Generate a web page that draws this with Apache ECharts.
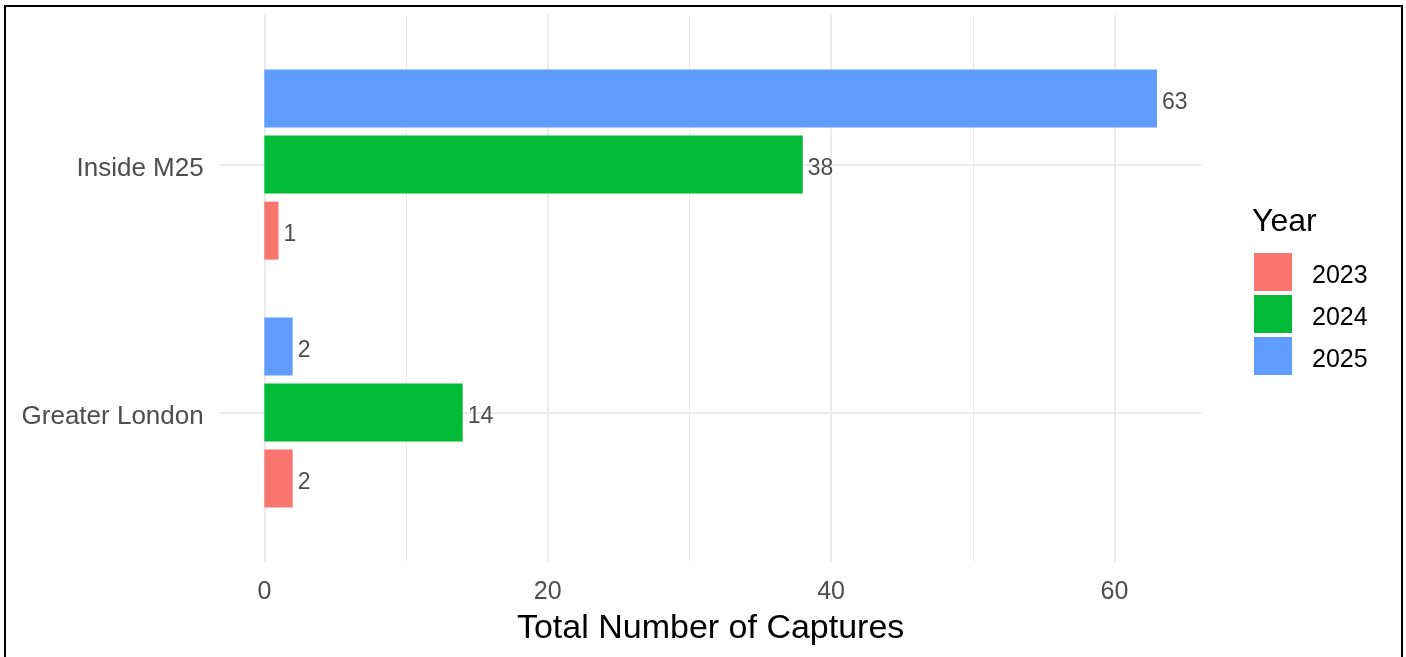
<!DOCTYPE html>
<html>
<head>
<meta charset="utf-8">
<script src="https://cdn.jsdelivr.net/npm/echarts@6/dist/echarts.min.js"></script>
<style>html,body{margin:0;padding:0;background:#fff;}#c{width:1406px;height:657px;}</style>
</head>
<body>
<div id="c"></div>
<script>
const categories = ['Greater London', 'Inside M25'];
const years = ['2023', '2024', '2025'];
const values2023 = [2, 1];
const values2024 = [14, 38];
const values2025 = [2, 63];
const majorTicks = [0, 20, 40, 60];
const minorTicks = [10, 30, 50];
const colors = ['#F8766D', '#00BA38', '#619CFF'];

const FONT = "'Liberation Sans', Arial, sans-serif";
const XMIN = -3.15, XMAX = 66.15;
const seriesValues = [values2023, values2024, values2025];

const chart = echarts.init(document.getElementById('c'), null, {renderer: 'canvas'});
// ECharts stacks horizontal bars top-down in series order, so add 2025 first
const order = [2, 1, 0];
const series = order.map(i => {
  const s = {
    name: years[i], type: 'bar', xAxisIndex: 2, yAxisIndex: 1,
    data: seriesValues[i], barWidth: 58, barGap: '14%', z: 2,
    itemStyle: {color: colors[i]},
    label: {show: true, position: 'right', distance: 5, offset: [0, 4], fontSize: 23, color: '#4D4D4D', fontFamily: FONT},
    emphasis: {disabled: true}
  };
  if (i === 1) {
    s.markLine = {
      silent: true, symbol: 'none', z: 1,
      label: {show: false},
      lineStyle: {color: '#EBEBEB', width: 2, type: 'solid'},
      emphasis: {disabled: true},
      data: categories.map(c => ({yAxis: c}))
    };
  }
  return s;
});

chart.setOption({
  animation: false,
  backgroundColor: '#fff',
  textStyle: {fontFamily: FONT},
  title: {text: 'Year', left: 1252, top: 206, padding: 0,
    textStyle: {fontSize: 32, fontWeight: 'normal', color: '#000', fontFamily: FONT}},
  legend: {
    orient: 'vertical', left: 1254, top: 253, padding: 0,
    itemWidth: 38, itemHeight: 38, itemGap: 4, icon: 'rect',
    formatter: name => '{a|' + name + '}',
    textStyle: {fontSize: 25, color: '#000', fontFamily: FONT,
      rich: {a: {fontSize: 25, lineHeight: 25, color: '#000', fontFamily: FONT, padding: [8, 0, 0, 15]}}},
    data: years
  },
  grid: [
    {left: 219.7, right: 204.4, top: 15, bottom: 95.5},
    {left: 219.7, right: 204.4, top: 40.5, bottom: 120.5}
  ],
  xAxis: [
    {gridIndex: 0, type: 'value', min: XMIN, max: XMAX,
     axisLine: {show: false}, axisTick: {show: false, customValues: majorTicks},
     axisLabel: {customValues: majorTicks, fontSize: 25, color: '#4D4D4D', margin: 18, fontFamily: FONT},
     splitLine: {show: true, lineStyle: {color: '#EBEBEB', width: 2}},
     name: 'Total Number of Captures', nameLocation: 'middle', nameGap: 50,
     nameTextStyle: {fontSize: 34, color: '#000', fontFamily: FONT}},
    {gridIndex: 0, type: 'value', min: XMIN, max: XMAX,
     axisLine: {show: false}, axisTick: {show: false, customValues: minorTicks},
     axisLabel: {show: false, customValues: minorTicks},
     splitLine: {show: true, lineStyle: {color: '#EBEBEB', width: 1}}},
    {gridIndex: 1, type: 'value', min: XMIN, max: XMAX, show: false}
  ],
  yAxis: [
    {gridIndex: 0, type: 'value', min: 0, max: 1, show: false},
    {gridIndex: 1, type: 'category', data: categories,
     axisLine: {show: false}, axisTick: {show: false}, splitLine: {show: false},
     axisLabel: {fontSize: 26, color: '#4D4D4D', margin: 16, fontFamily: FONT,
       formatter: v => '{a|' + v + '}',
       rich: {a: {fontSize: 26, lineHeight: 26, color: '#4D4D4D', fontFamily: FONT, padding: [8, 0, 0, 0]}}}}
  ],
  graphic: [
    {type: 'rect', shape: {x: 5, y: 6, width: 1397, height: 700},
     style: {fill: null, stroke: '#000', lineWidth: 2}, silent: true, z: 100}
  ],
  series: series
});
</script>
</body>
</html>
